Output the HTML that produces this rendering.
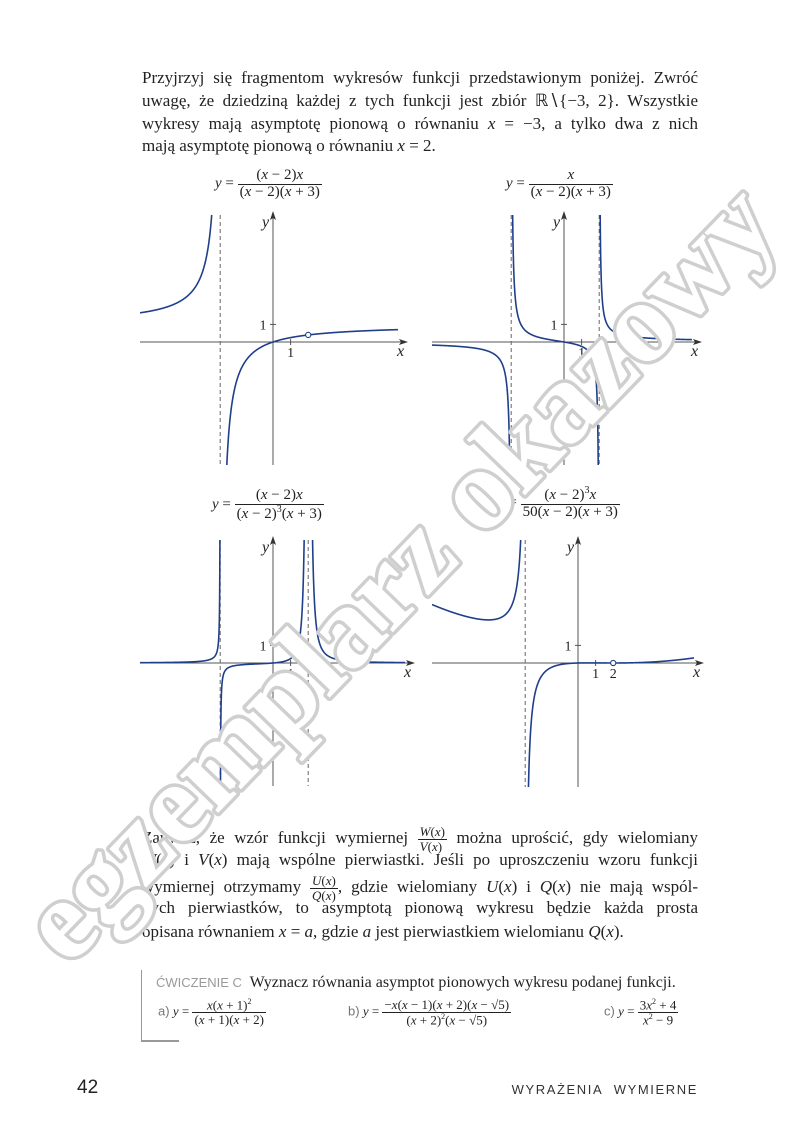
<!DOCTYPE html>
<html><head><meta charset="utf-8">
<style>
body{margin:0;background:#fff}
#page{position:relative;width:800px;height:1139px;overflow:hidden;background:#fff;font-family:"Liberation Serif",serif;color:#222}
.ln{position:absolute;left:142px;width:556px;font-size:17px;white-space:nowrap;text-align:justify;text-align-last:justify;line-height:20px}
.ln.last{text-align-last:left}
i{font-style:italic}
.frac{display:inline-block;vertical-align:middle;text-align:center;line-height:1.05}
.frac>span{display:block;padding:0 2px}
.frac>span.num{border-bottom:1px solid #222}
.fm{position:absolute;font-size:15px;white-space:nowrap;font-family:"Liberation Serif",serif}
.sans{font-family:"Liberation Sans",sans-serif}
svg text{font-family:"Liberation Serif",serif}
</style></head><body>
<div id="page">
<div class="ln" style="top:68px">Przyjrzyj się fragmentom wykresów funkcji przedstawionym poniżej. Zwróć</div>
<div class="ln" style="top:91px">uwagę, że dziedziną każdej z tych funkcji jest zbiór ℝ∖{−3, 2}. Wszystkie</div>
<div class="ln" style="top:114px">wykresy mają asymptotę pionową o równaniu <i>x</i> = −3, a tylko dwa z nich</div>
<div class="ln last" style="top:136px">mają asymptotę pionową o równaniu <i>x</i> = 2.</div>

<div class="fm" style="left:215px;top:168px"><i>y</i> = <span class="frac"><span class="num">(<i>x</i> − 2)<i>x</i></span><span>(<i>x</i> − 2)(<i>x</i> + 3)</span></span></div>
<div class="fm" style="left:506px;top:168px"><i>y</i> = <span class="frac"><span class="num"><i>x</i></span><span>(<i>x</i> − 2)(<i>x</i> + 3)</span></span></div>
<div class="fm" style="left:212px;top:488px"><i>y</i> = <span class="frac"><span class="num">(<i>x</i> − 2)<i>x</i></span><span>(<i>x</i> − 2)<sup style="font-size:10px">3</sup>(<i>x</i> + 3)</span></span></div>
<div class="fm" style="left:498px;top:486px"><i>y</i> = <span class="frac"><span class="num">(<i>x</i> − 2)<sup style="font-size:10px">3</sup><i>x</i></span><span>50(<i>x</i> − 2)(<i>x</i> + 3)</span></span></div>

<svg id="charts" width="800" height="1139" style="position:absolute;left:0;top:0"></svg>

<div class="ln" style="top:825px">Zauważ, że wzór funkcji wymiernej <span class="frac" style="font-size:13px"><span class="num"><i>W</i>(<i>x</i>)</span><span><i>V</i>(<i>x</i>)</span></span> można uprościć, gdy wielomiany</div>
<div class="ln" style="top:850px"><i>W</i>(<i>x</i>) i <i>V</i>(<i>x</i>) mają wspólne pierwiastki. Jeśli po uproszczeniu wzoru funkcji</div>
<div class="ln" style="top:874px">wymiernej otrzymamy <span class="frac" style="font-size:13px"><span class="num"><i>U</i>(<i>x</i>)</span><span><i>Q</i>(<i>x</i>)</span></span>, gdzie wielomiany <i>U</i>(<i>x</i>) i <i>Q</i>(<i>x</i>) nie mają wspól-</div>
<div class="ln" style="top:898px">nych pierwiastków, to asymptotą pionową wykresu będzie każda prosta</div>
<div class="ln last" style="top:922px">opisana równaniem <i>x</i> = <i>a</i>, gdzie <i>a</i> jest pierwiastkiem wielomianu <i>Q</i>(<i>x</i>).</div>

<div style="position:absolute;left:141px;top:970px;width:1px;height:71px;background:#999"></div>
<div style="position:absolute;left:141px;top:1040px;width:38px;height:2px;background:#999"></div>
<div style="position:absolute;left:156px;top:974px;font-size:16px;white-space:nowrap"><span class="sans" style="color:#999;font-size:13px">ĆWICZENIE C</span>&nbsp; Wyznacz równania asymptot pionowych wykresu podanej funkcji.</div>
<div class="fm" style="left:158px;top:998px;font-size:13px"><span class="sans" style="color:#777">a)</span> <i>y</i> = <span class="frac"><span class="num"><i>x</i>(<i>x</i> + 1)<sup style="font-size:8px">2</sup></span><span>(<i>x</i> + 1)(<i>x</i> + 2)</span></span></div>
<div class="fm" style="left:348px;top:998px;font-size:13px"><span class="sans" style="color:#777">b)</span> <i>y</i> = <span class="frac"><span class="num">−<i>x</i>(<i>x</i> − 1)(<i>x</i> + 2)(<i>x</i> − √5)</span><span>(<i>x</i> + 2)<sup style="font-size:8px">2</sup>(<i>x</i> − √5)</span></span></div>
<div class="fm" style="left:604px;top:998px;font-size:13px"><span class="sans" style="color:#777">c)</span> <i>y</i> = <span class="frac"><span class="num">3<i>x</i><sup style="font-size:8px">2</sup> + 4</span><span><i>x</i><sup style="font-size:8px">2</sup> − 9</span></span></div>

<div class="sans" style="position:absolute;left:77px;top:1077px;font-size:19px;color:#222">42</div>
<div class="sans" style="position:absolute;right:102px;top:1082px;font-size:13px;letter-spacing:1.6px;color:#333">WYRAŻENIA&nbsp; WYMIERNE</div>

<svg width="800" height="1139" style="position:absolute;left:0;top:0;pointer-events:none">
<text x="398" y="610" text-anchor="middle" transform="rotate(-46 398 572)" font-family="Liberation Sans, sans-serif" font-weight="bold" font-size="116" fill="#fff" stroke="#cfcfcf" stroke-width="7" stroke-linejoin="round" paint-order="stroke">egzemplarz okazowy</text>
</svg>
</div>
<script>
// graph definitions (data)
const graphNames = ['graph-1','graph-2','graph-3','graph-4'];
const originX = [273, 564, 273, 578];
const originY = [342, 342, 663, 663];
const boxLeft = [140, 432, 140, 432];
const boxRight = [398, 692, 405, 694];
const boxTop = [215, 215, 540, 540];
const boxBottom = [465, 465, 786, 787];
const asymptotes = [[-3], [-3, 2], [-3, 2], [-3]];
const holes = [[2], [], [], [2]];
const xTickLabels = [['1'], ['1'], ['1'], ['1', '2']];
const funcs = [
  x => (x-2)*x/((x-2)*(x+3)),
  x => x/((x-2)*(x+3)),
  x => (x-2)*x/(Math.pow(x-2,3)*(x+3)),
  x => Math.pow(x-2,3)*x/(50*(x-2)*(x+3))
];
const unit = 17.6;

const NS = 'http://www.w3.org/2000/svg';
const svg = document.getElementById('charts');
function mk(tag, attrs, parent){const e=document.createElementNS(NS,tag);for(const k in attrs)e.setAttribute(k,attrs[k]);(parent||svg).appendChild(e);return e;}

graphNames.forEach((name, g) => {
  const X = v => originX[g] + v*unit, Y = v => originY[g] - v*unit;
  const grp = mk('g', {});
  
  
  const cp = mk('clipPath', {id:'clip'+g}, grp);
  mk('rect', {x:boxLeft[g], y:boxTop[g], width:boxRight[g]-boxLeft[g], height:boxBottom[g]-boxTop[g]}, cp);
  const xa = mk('line', {x1:boxLeft[g], y1:originY[g], x2:boxRight[g]+8, y2:originY[g], stroke:'#555', 'stroke-width':1}, grp);
  
  
  mk('path', {d:`M${boxRight[g]+10},${originY[g]} l-9,-3 l2,3 l-2,3z`, fill:'#333'}, grp);
  const ya = mk('line', {x1:originX[g], y1:boxBottom[g], x2:originX[g], y2:boxTop[g]-2, stroke:'#555', 'stroke-width':1}, grp);
  
  
  mk('path', {d:`M${originX[g]},${boxTop[g]-4} l-3,9 l3,-2 l3,2z`, fill:'#333'}, grp);
  const xl = mk('text', {x:boxRight[g]-1, y:originY[g]+14, 'font-size':16, 'font-style':'italic', fill:'#222'}, grp); xl.textContent='x';
  
  
  const yl = mk('text', {x:originX[g]-11, y:boxTop[g]+12, 'font-size':16, 'font-style':'italic', fill:'#222'}, grp); yl.textContent='y';
  
  
  xTickLabels[g].forEach(lab => {
    const v = +lab;
    mk('line', {x1:X(v), y1:originY[g]-3, x2:X(v), y2:originY[g]+3, stroke:'#555'}, grp);
    const t = mk('text', {x:X(v), y:originY[g]+15, 'font-size':14, 'text-anchor':'middle', fill:'#222'}, grp); t.textContent = lab;
    
    
  });
  mk('line', {x1:originX[g]-3, y1:Y(1), x2:originX[g]+3, y2:Y(1), stroke:'#555'}, grp);
  const yt = mk('text', {x:originX[g]-10, y:Y(1)+5, 'font-size':14, 'text-anchor':'middle', fill:'#222'}, grp); yt.textContent='1';
  
  
  asymptotes[g].forEach(a => {
    const l = mk('line', {x1:X(a), y1:boxTop[g], x2:X(a), y2:boxBottom[g], stroke:'#666', 'stroke-width':1, 'stroke-dasharray':'4,3'}, grp);
    
    
  });
  const xmin = (boxLeft[g]-originX[g])/unit, xmax = (boxRight[g]-originX[g])/unit;
  const ymax = (originY[g]-boxTop[g])/unit + 1, ymin = (originY[g]-boxBottom[g])/unit - 1;
  let d = '', pen = false;
  const N = 2000;
  for (let i=0;i<=N;i++){
    const x = xmin + (xmax-xmin)*i/N;
    if (asymptotes[g].some(a => Math.abs(x-a) < 1e-3)) { pen=false; continue; }
    let y = funcs[g](x);
    if (!isFinite(y)) { pen=false; continue; }
    if (y > ymax || y < ymin) {
      y = Math.max(ymin, Math.min(ymax, y));
      if (pen) { d += `L${X(x).toFixed(2)},${Y(y).toFixed(2)}`; pen=false; }
      else {
        const xn = xmin + (xmax-xmin)*(i+1)/N; const yn = funcs[g](xn);
        if (isFinite(yn) && yn<=ymax && yn>=ymin && !asymptotes[g].some(a=>(x-a)*(xn-a)<0)) { d += `M${X(x).toFixed(2)},${Y(y).toFixed(2)}`; pen=true; }
      }
      continue;
    }
    d += (pen?'L':'M') + X(x).toFixed(2) + ',' + Y(y).toFixed(2);
    pen = true;
  }
  const c = mk('path', {d, fill:'none', stroke:'#1f3f8a', 'stroke-width':1.6, 'clip-path':`url(#clip${g})`}, grp);
  
  
  holes[g].forEach(h => {
    const yv = funcs[g](h + 1e-6);
    const hc = mk('circle', {cx:X(h), cy:Y(yv), r:2.6, fill:'#fff', stroke:'#1f3f8a', 'stroke-width':1.1}, grp);
    
    
  });
});
</script>
</body></html>
